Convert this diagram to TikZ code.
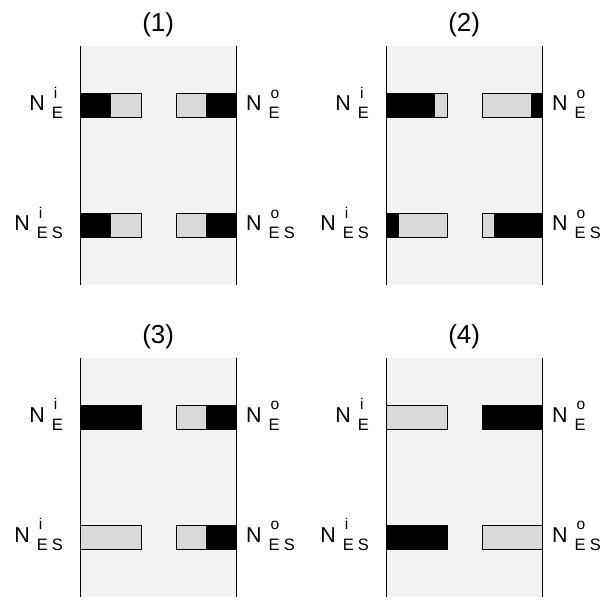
\documentclass[tikz,border=0pt]{standalone}
\usepackage{fontspec}
\setmainfont{Liberation Sans}
\definecolor{panelfill}{HTML}{F2F2F2}
\definecolor{barfill}{HTML}{D9D9D9}
\newcommand{\subfont}{\fontsize{16.5}{17}\selectfont}
\newcommand{\supfont}{\fontsize{15.5}{15.5}\selectfont}
\newcommand{\bigNfont}{\fontsize{21.5}{22}\selectfont}
\newcommand{\Nlabel}[2]{\bigNfont N\hspace{7pt}\rlap{\hspace{2pt}\raisebox{12.5pt}{\supfont #1}}\raisebox{-8pt}{\subfont #2}}
\newcommand{\ES}{E\hspace{4.2pt}S}
\tikzset{
  lbl/.style={inner sep=0pt},
  ttl/.style={inner sep=0pt, anchor=base, font=\fontsize{26}{26}\selectfont},
  sideline/.style={line width=1pt},
  barline/.style={line width=0.9pt},
}
% #1 x left, #2 x right, #3 black from, #4 black to, #5 y top
\newcommand{\onebar}[5]{%
  \fill[barfill] (#1,-#5) rectangle (#2,-#5-24.3);
  \fill[black] (#3,-#5) rectangle (#4,-#5-24.3);
  \draw[barline] (#1,-#5) rectangle (#2,-#5-24.3);
}
% #1 panel x-left, #2 y-top, #3 name, #4 title
\newcommand{\panel}[4]{%
  \fill[panelfill] (#1,-#2) rectangle (#1+156,-#2-239);
  \draw[sideline] (#1,-#2) -- (#1,-#2-239);
  \draw[sideline] (#1+156,-#2) -- (#1+156,-#2-239);
  \node[ttl] (#3t) at (#1+77.5,-#2+14) {#4};
  \node[lbl, anchor=base east] (#3a) at (#1-17.5,-#2-64.5) {\Nlabel{i}{E}};
  \node[lbl, anchor=base west] (#3b) at (#1+165.3,-#2-64.5) {\Nlabel{o}{E}};
  \node[lbl, anchor=base east] (#3c) at (#1-17.5,-#2-184.5) {\Nlabel{i}{\ES}};
  \node[lbl, anchor=base west] (#3d) at (#1+165.3,-#2-184.5) {\Nlabel{o}{\ES}};
}
\begin{document}
\begin{tikzpicture}[x=1pt,y=1pt]
\useasboundingbox (0,0) rectangle (607,-599);
\panel{80.7}{46}{p1}{(1)}
\panel{386.7}{46}{p2}{(2)}
\panel{80.7}{357.7}{p3}{(3)}
\panel{386.7}{357.7}{p4}{(4)}
% panel 1
\onebar{80.7}{141}{80.7}{111}{93.3}
\onebar{176.3}{236.7}{206}{236.7}{93.3}
\onebar{80.7}{141}{80.7}{111}{213.3}
\onebar{176.3}{236.7}{206}{236.7}{213.3}
% panel 2
\onebar{386.7}{447}{386.7}{435}{93.3}
\onebar{482.3}{542.7}{531}{542.7}{93.3}
\onebar{386.7}{447}{386.7}{399}{213.3}
\onebar{482.3}{542.7}{494.3}{542.7}{213.3}
% panel 3
\onebar{80.7}{141}{80.7}{141}{405}
\onebar{176.3}{236.7}{206}{236.7}{405}
\onebar{80.7}{141}{80.7}{80.7}{525}
\onebar{176.3}{236.7}{206}{236.7}{525}
% panel 4
\onebar{386.7}{447}{386.7}{386.7}{405}
\onebar{482.3}{542.7}{482.3}{542.7}{405}
\onebar{386.7}{447}{386.7}{447}{525}
\onebar{482.3}{542.7}{542.7}{542.7}{525}
\end{tikzpicture}
\end{document}
